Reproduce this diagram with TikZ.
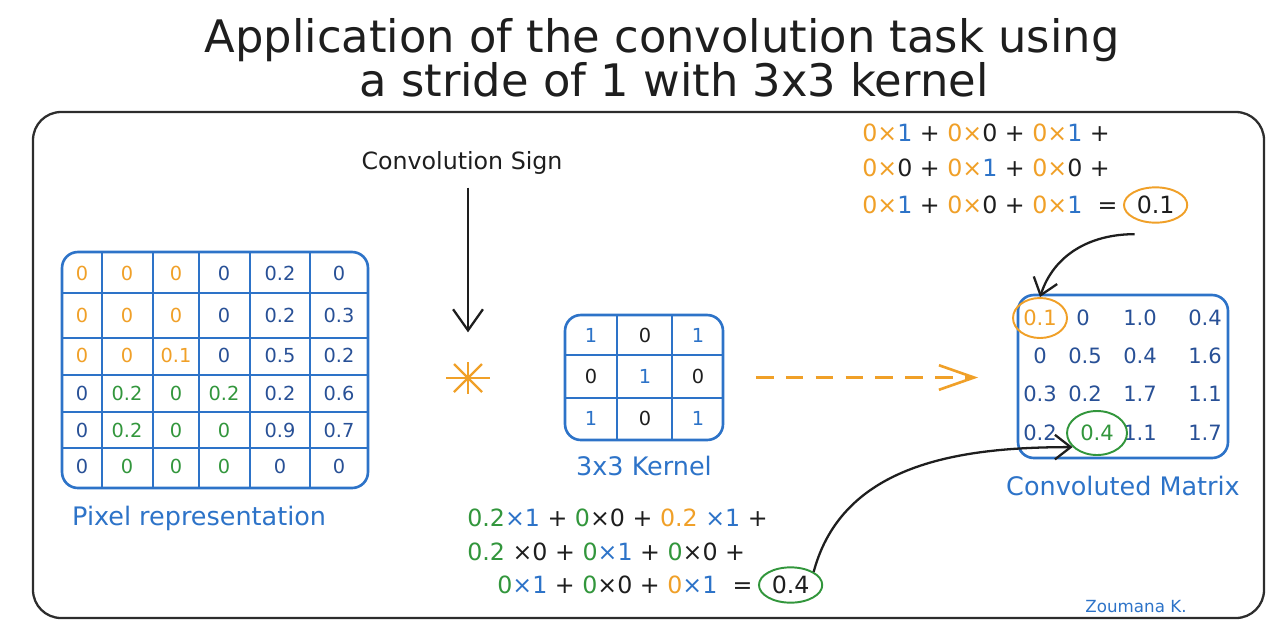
\documentclass[tikz,border=0pt]{standalone}
\usepackage{fontspec}
\setmainfont{DejaVu Sans}
\usepackage{tikz}
\usetikzlibrary{arrows.meta,positioning,shapes.geometric}
\definecolor{gridBlue}{RGB}{45,115,200}
\definecolor{digitBlue}{RGB}{40,80,150}
\definecolor{sketchOrange}{RGB}{240,160,40}
\definecolor{sketchGreen}{RGB}{50,150,60}
\definecolor{inkBlack}{RGB}{30,30,30}
\definecolor{frameGray}{RGB}{45,45,45}
\newcommand{\tor}[1]{\textcolor{sketchOrange}{#1}}
\newcommand{\tgr}[1]{\textcolor{sketchGreen}{#1}}
\newcommand{\tbl}[1]{\textcolor{gridBlue}{#1}}
\tikzset{
  cell/.style={font=\fontsize{11}{13}\selectfont, inner sep=0pt},
  gridline/.style={draw=gridBlue, line width=1.2pt},
  gridbox/.style={draw=gridBlue, line width=1.5pt, rounded corners=9pt, inner sep=0pt},
  caption/.style={font=\fontsize{14.5}{17}\selectfont, text=gridBlue},
  headline/.style={font=\fontsize{25.5}{30}\selectfont, text=inkBlack, inner sep=0pt},
  formula/.style={font=\fontsize{13.5}{16}\selectfont, anchor=west, inner sep=0pt, text=inkBlack},
  result/.style={ellipse, draw, line width=1.1pt, inner sep=2pt, font=\fontsize{13.5}{16}\selectfont, text=inkBlack},
  ring/.style={ellipse, draw, line width=1.1pt, inner sep=0pt},
  inkArrow/.style={draw=inkBlack, line width=1.3pt, -{Straight Barb[length=9pt,width=14pt]}},
}

\begin{document}
\begin{tikzpicture}[x=0.02cm, y=-0.02cm]
\useasboundingbox (0,0) rectangle (1273,620);

\node[headline, anchor=base] (title) at (662,52) {Application of the convolution task using};
\node[headline, anchor=base] (subtitle) at (674,96) {a stride of 1 with 3x3 kernel};

\draw[frameGray, line width=1.3pt, rounded corners=16pt] (33,112) rectangle (1264,618);

% pixel grid
\node[gridbox, minimum width=6.12cm, minimum height=4.72cm] (pixgrid) at (215,370) {};
\foreach \x in {102,153,199,250,310} \draw[gridline] (\x,252) -- (\x,488);
\foreach \y in {293,338,375,412,448} \draw[gridline] (62,\y) -- (368,\y);

\foreach \x/\col/\val [count=\c] in {82/sketchOrange/0,127/sketchOrange/0,176/sketchOrange/0,224/digitBlue/0,280/digitBlue/0.2,339/digitBlue/0}
  \node[cell, text=\col] (p1\c) at (\x,273) {\val};
\foreach \x/\col/\val [count=\c] in {82/sketchOrange/0,127/sketchOrange/0,176/sketchOrange/0,224/digitBlue/0,280/digitBlue/0.2,339/digitBlue/0.3}
  \node[cell, text=\col] (p2\c) at (\x,315) {\val};
\foreach \x/\col/\val [count=\c] in {82/sketchOrange/0,127/sketchOrange/0,176/sketchOrange/0.1,224/digitBlue/0,280/digitBlue/0.5,339/digitBlue/0.2}
  \node[cell, text=\col] (p3\c) at (\x,355) {\val};
\foreach \x/\col/\val [count=\c] in {82/digitBlue/0,127/sketchGreen/0.2,176/sketchGreen/0,224/sketchGreen/0.2,280/digitBlue/0.2,339/digitBlue/0.6}
  \node[cell, text=\col] (p4\c) at (\x,393) {\val};
\foreach \x/\col/\val [count=\c] in {82/digitBlue/0,127/sketchGreen/0.2,176/sketchGreen/0,224/sketchGreen/0,280/digitBlue/0.9,339/digitBlue/0.7}
  \node[cell, text=\col] (p5\c) at (\x,430) {\val};
\foreach \x/\col/\val [count=\c] in {82/digitBlue/0,127/sketchGreen/0,176/sketchGreen/0,224/sketchGreen/0,280/digitBlue/0,339/digitBlue/0}
  \node[cell, text=\col] (p6\c) at (\x,466) {\val};

\node[caption, anchor=west] (pixlbl) at (66,518) {Pixel representation};

% convolution sign
\node[font=\fontsize{13.5}{16}\selectfont, text=inkBlack] (signlbl) at (462,163) {Convolution Sign};
\coordinate (convsign) at (468,378);
\draw[sketchOrange, line width=1.3pt] ([shift={(-22,0)}]convsign) -- ([shift={(22,0)}]convsign);
\draw[sketchOrange, line width=1.3pt] ([shift={(0,-16)}]convsign) -- ([shift={(0,16)}]convsign);
\draw[sketchOrange, line width=1.3pt] ([shift={(-14,-14)}]convsign) -- ([shift={(14,14)}]convsign);
\draw[sketchOrange, line width=1.3pt] ([shift={(-14,14)}]convsign) -- ([shift={(14,-14)}]convsign);
\draw[inkArrow, -{Straight Barb[length=12pt,width=17pt]}] ([yshift=-4pt]signlbl.south -| convsign) -- ([yshift=26pt]convsign);

% kernel
\node[gridbox, minimum width=3.16cm, minimum height=2.5cm] (kernel) at (644,377.5) {};
\foreach \x in {617,672} \draw[gridline] (\x,315) -- (\x,440);
\foreach \y in {355,398} \draw[gridline] (565,\y) -- (723,\y);
\foreach \x/\col/\val [count=\c] in {591/gridBlue/1,645/inkBlack/0,698/gridBlue/1}
  \node[cell, text=\col] (k1\c) at (\x,335) {\val};
\foreach \x/\col/\val [count=\c] in {591/inkBlack/0,645/gridBlue/1,698/inkBlack/0}
  \node[cell, text=\col] (k2\c) at (\x,376) {\val};
\foreach \x/\col/\val [count=\c] in {591/gridBlue/1,645/inkBlack/0,698/gridBlue/1}
  \node[cell, text=\col] (k3\c) at (\x,418) {\val};
\node[caption, below=5pt of kernel] (kernlbl) {3x3 Kernel};

% convoluted matrix
\node[gridbox, minimum width=4.2cm, minimum height=3.26cm] (convmat) at (1123,376.5) {};
\foreach \x/\col/\val [count=\c] in {1040/sketchOrange/0.1,1083/digitBlue/0,1140/digitBlue/1.0,1205/digitBlue/0.4}
  \node[cell, font=\fontsize{12}{14}\selectfont, text=\col] (c1\c) at (\x,318) {\val};
\foreach \x/\col/\val [count=\c] in {1040/digitBlue/0,1085/digitBlue/0.5,1140/digitBlue/0.4,1205/digitBlue/1.6}
  \node[cell, font=\fontsize{12}{14}\selectfont, text=\col] (c2\c) at (\x,356) {\val};
\foreach \x/\col/\val [count=\c] in {1040/digitBlue/0.3,1085/digitBlue/0.2,1140/digitBlue/1.7,1205/digitBlue/1.1}
  \node[cell, font=\fontsize{12}{14}\selectfont, text=\col] (c3\c) at (\x,394) {\val};
\foreach \x/\col/\val [count=\c] in {1040/digitBlue/0.2,1097/sketchGreen/0.4,1140/digitBlue/1.1,1205/digitBlue/1.7}
  \node[cell, font=\fontsize{12}{14}\selectfont, text=\col] (c4\c) at (\x,433) {\val};
\node[ring, draw=sketchOrange, minimum width=1.08cm, minimum height=0.8cm] (ring11) at (c11) {};
\node[ring, draw=sketchGreen, minimum width=1.2cm, minimum height=0.88cm] (ring42) at (c42) {};
\node[caption, below=6pt of convmat] (convlbl) {Convoluted Matrix};

\draw[sketchOrange, line width=1.5pt, dash pattern=on 10pt off 7pt, -{Straight Barb[length=20pt,width=14pt]},
  shorten <=18pt, shorten >=22pt] (kernel.east) -- (convmat.west |- kernel.east);

% top formula
\node[formula] (top1) at (862,133) {\tor{0×}\tbl{1} + \tor{0×}0 + \tor{0×}\tbl{1} +};
\node[formula] (top2) at (862,168) {\tor{0×}0 + \tor{0×}\tbl{1} + \tor{0×}0 +};
\node[formula] (top3) at (862,205) {\tor{0×}\tbl{1} + \tor{0×}0 + \tor{0×}\tbl{1} \ =};
\node[result, draw=sketchOrange, right=3pt of top3] (res1) {0.1};
\draw[inkArrow] ([xshift=-12pt,yshift=-6pt]res1.south) to[out=180, in=72] (ring11.north);

% bottom formula
\node[formula] (bot1) at (467,518) {\tgr{0.2}\tbl{×1} + \tgr{0}×0 + \tor{0.2}\ \tbl{×1} +};
\node[formula] (bot2) at (467,552) {\tgr{0.2} ×0 + \tgr{0}\tbl{×1} + \tgr{0}×0 +};
\node[formula] (bot3) at (497,585) {\tgr{0}\tbl{×1} + \tgr{0}×0 + \tor{0}\tbl{×1} \ =};
\node[result, draw=sketchGreen, right=3pt of bot3] (res2) {0.4};
\draw[inkArrow] (res2.north east) to[out=75, in=180] (ring42.210);

\node[caption, font=\fontsize{9.5}{12}\selectfont] (author) at (1136,607) {Zoumana K.};

\end{tikzpicture}
\end{document}
